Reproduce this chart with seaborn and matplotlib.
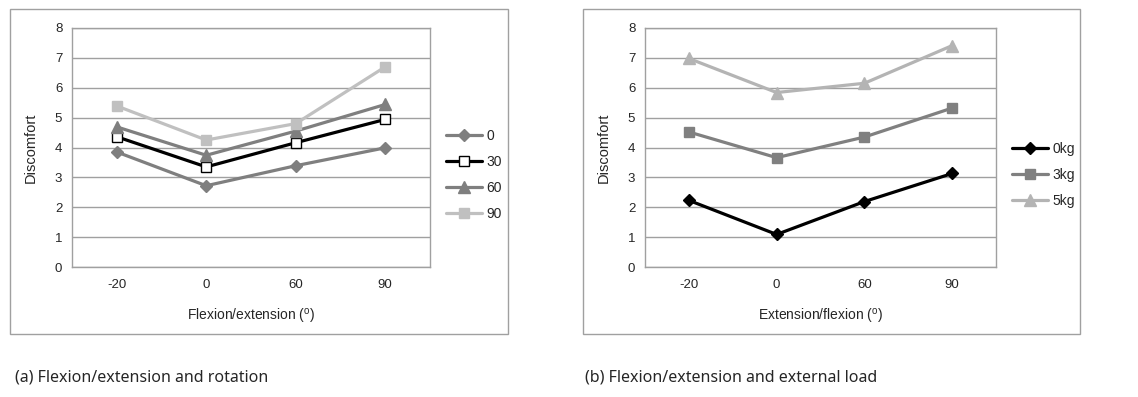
import numpy as np
import pandas as pd
import matplotlib
matplotlib.use('Agg')
import matplotlib.pyplot as plt
from matplotlib.patches import Rectangle
import seaborn as sns

# 数据
angles = ['-20', '0', '60', '90']

rotation_names = ['0', '30', '60', '90']
rot_0 = [3.85, 2.72, 3.39, 3.99]
rot_30 = [4.36, 3.35, 4.16, 4.94]
rot_60 = [4.69, 3.74, 4.55, 5.44]
rot_90 = [5.39, 4.25, 4.80, 6.70]

load_names = ['0kg', '3kg', '5kg']
load_0 = [2.23, 1.09, 2.19, 3.13]
load_3 = [4.52, 3.66, 4.35, 5.32]
load_5 = [6.98, 5.84, 6.15, 7.41]

captions = ['(a) Flexion/extension and rotation', '(b) Flexion/extension and external load']
xlabels = ['Flexion/extension ($\\mathregular{^o}$)', 'Extension/flexion ($\\mathregular{^o}$)']

sns.set_style('white')
plt.rcParams['font.family'] = ['Liberation Sans', 'DejaVu Sans']


def long_df(names, series):
    rows = []
    for name, vals in zip(names, series):
        for i, v in enumerate(vals):
            rows.append({'pos': i, 'series': name, 'value': v})
    return pd.DataFrame(rows)


df_rot = long_df(rotation_names, [rot_0, rot_30, rot_60, rot_90])
df_load = long_df(load_names, [load_0, load_3, load_5])

# 样式
rot_styles = {
    '0': dict(color='#7f7f7f', marker='D', mfc='#7f7f7f', mec='#7f7f7f', ms=6),
    '30': dict(color='#000000', marker='s', mfc='white', mec='#000000', ms=7.5),
    '60': dict(color='#7f7f7f', marker='^', mfc='#7f7f7f', mec='#7f7f7f', ms=8),
    '90': dict(color='#c0c0c0', marker='s', mfc='#c0c0c0', mec='#c0c0c0', ms=7.5),
}
load_styles = {
    '0kg': dict(color='#000000', marker='D', mfc='#000000', mec='#000000', ms=6),
    '3kg': dict(color='#808080', marker='s', mfc='#808080', mec='#808080', ms=7.5),
    '5kg': dict(color='#b4b4b4', marker='^', mfc='#b4b4b4', mec='#b4b4b4', ms=8),
}

fig = plt.figure(figsize=(11.38, 3.97), dpi=100)
W, H = 1138, 397

# 外框
for x0, x1 in [(10, 508), (583, 1080)]:
    fig.patches.append(Rectangle((x0 / W, 1 - 334 / H), (x1 - x0) / W, (334 - 9) / H,
                                 transform=fig.transFigure, fill=False,
                                 edgecolor='#a0a0a0', linewidth=1.0))

ax1 = fig.add_axes([72 / W, 1 - 267 / H, (430 - 72) / W, (267 - 28) / H])
ax2 = fig.add_axes([645 / W, 1 - 267 / H, (996 - 645) / W, (267 - 28) / H])


def draw(ax, df, names, styles, xlabel, leg_anchor):
    for name in names:
        st = styles[name]
        sns.lineplot(data=df[df['series'] == name], x='pos', y='value', ax=ax,
                     color=st['color'], linewidth=2.3, marker=st['marker'],
                     markersize=st['ms'], markerfacecolor=st['mfc'],
                     markeredgecolor=st['mec'], markeredgewidth=1.0, label=name)
    ax.set_ylim(0, 8)
    ax.set_xlim(-0.5, len(angles) - 0.5)
    ax.set_yticks(range(0, 9))
    ax.set_xticks(range(len(angles)))
    ax.set_xticklabels(angles)
    ax.set_xticks(np.arange(-0.5, len(angles), 1.0), minor=True)
    ax.tick_params(axis='x', which='major', length=0, labelsize=9.5, pad=9)
    ax.tick_params(axis='x', which='minor', length=4, color='#909090', direction='out')
    ax.tick_params(axis='y', length=4, color='#909090', direction='out', labelsize=9.5, pad=3)
    ax.yaxis.grid(True, color='#a0a0a0', linewidth=1.0)
    ax.set_axisbelow(True)
    for sp in ax.spines.values():
        sp.set_color('#a0a0a0')
        sp.set_linewidth(1.0)
    ax.set_xlabel(xlabel, fontsize=10, labelpad=11)
    ax.set_ylabel('Discomfort', fontsize=10.5, labelpad=12)
    ax.legend(loc='center left', bbox_to_anchor=leg_anchor, frameon=False,
              fontsize=10, handlelength=2.6, handletextpad=0.3, labelspacing=0.85)


draw(ax1, df_rot, rotation_names, rot_styles, xlabels[0], (1.01, 0.385))
draw(ax2, df_load, load_names, load_styles, xlabels[1], (1.01, 0.385))

# 标题说明
fig.text(15 / W, 1 - 378 / H, captions[0], fontsize=11.5, va='center', ha='left',
         family=['Noto Sans', 'DejaVu Sans'])
fig.text(585 / W, 1 - 378 / H, captions[1], fontsize=11.5, va='center', ha='left',
         family=['Noto Sans', 'DejaVu Sans'])

fig.savefig('out.png', dpi=100)
